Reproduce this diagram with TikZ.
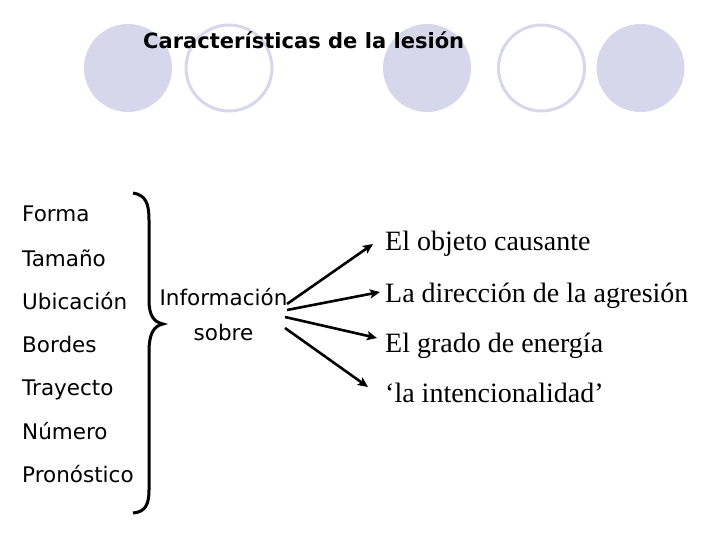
\documentclass[tikz,border=0pt]{standalone}
\usepackage{fontspec}
\usepackage{graphicx}
\setmainfont{Liberation Serif}
\newfontfamily\sansf{DejaVu Sans}
\newfontfamily\titlef{DejaVu Sans Bold}
\usetikzlibrary{arrows.meta}
\definecolor{lav}{HTML}{D7D7EC}
\tikzset{
  dotfill/.style={fill=lav, draw=none},
  dotring/.style={draw=lav, line width=3pt, fill=none},
  listitem/.style={anchor=base west, inner sep=0pt, font=\sansf\fontsize{21.5}{25}\selectfont},
  resitem/.style={anchor=base west, inner sep=0pt, font=\fontsize{28}{32}\selectfont},
  conn/.style={line width=2.6pt, -{Stealth[length=10pt,width=9pt,inset=2pt]}},
}
\begin{document}
\begin{tikzpicture}[x=1pt,y=-1pt]
\useasboundingbox (0,0) rectangle (720,540);
% decorative circles
\fill[lav] (128,68) circle (44);
\draw[dotring] (229,68) circle (43);
\fill[lav] (427,68) circle (44);
\draw[dotring] (541.5,68) circle (43);
\fill[lav] (640.5,68) circle (44);
% title
\node[anchor=base west, inner sep=0pt] (title) at (143,49) {\titlef\fontsize{21.5}{25}\selectfont\resizebox{321pt}{!}{Características de la lesión}};
% left list
\node[listitem] (forma) at (22,222) {Forma};
\node[listitem] (tam) at (22,266) {Tamaño};
\node[listitem] (ubi) at (22,309) {Ubicación};
\node[listitem] (bor) at (22,352) {Bordes};
\node[listitem] (tra) at (22,395) {Trayecto};
\node[listitem] (num) at (22,439) {Número};
\node[listitem] (pro) at (22,482) {Pronóstico};
% brace
\draw[line width=3pt] (133,193) .. controls (146,195) and (149,204) .. (149,220) -- (149,300)
  .. controls (149,316) and (154,322) .. (163,324)
  .. controls (154,326) and (149,333) .. (149,352) -- (149,490)
  .. controls (149,505) and (145,512) .. (133,513);
% centre text
\node[anchor=base, inner sep=0pt, font=\sansf\fontsize{21.5}{25}\selectfont] (info1) at (223.5,305) {Información};
\node[anchor=base, inner sep=0pt, font=\sansf\fontsize{21.5}{25}\selectfont] (info2) at (223.5,340) {sobre};
% results
\node[resitem] (r1) at (385,251) {El objeto causante};
\node[resitem] (r2) at (385,302) {La dirección de la agresión};
\node[resitem] (r3) at (385,352) {El grado de energía};
\node[resitem] (r4) at (385,402) {‘la intencionalidad’};
% arrow end points
\coordinate (s1) at (287,304);
\coordinate (s2) at (287,310);
\coordinate (s3) at (285,317);
\coordinate (s4) at (285,328);
\coordinate (e1) at (373,244);
\coordinate (e2) at (380,292);
\coordinate (e3) at (377,338);
\coordinate (e4) at (368,387);
\draw[conn] (s1) -- (e1);
\draw[conn] (s2) -- (e2);
\draw[conn] (s3) -- (e3);
\draw[conn] (s4) -- (e4);
\end{tikzpicture}
\end{document}
